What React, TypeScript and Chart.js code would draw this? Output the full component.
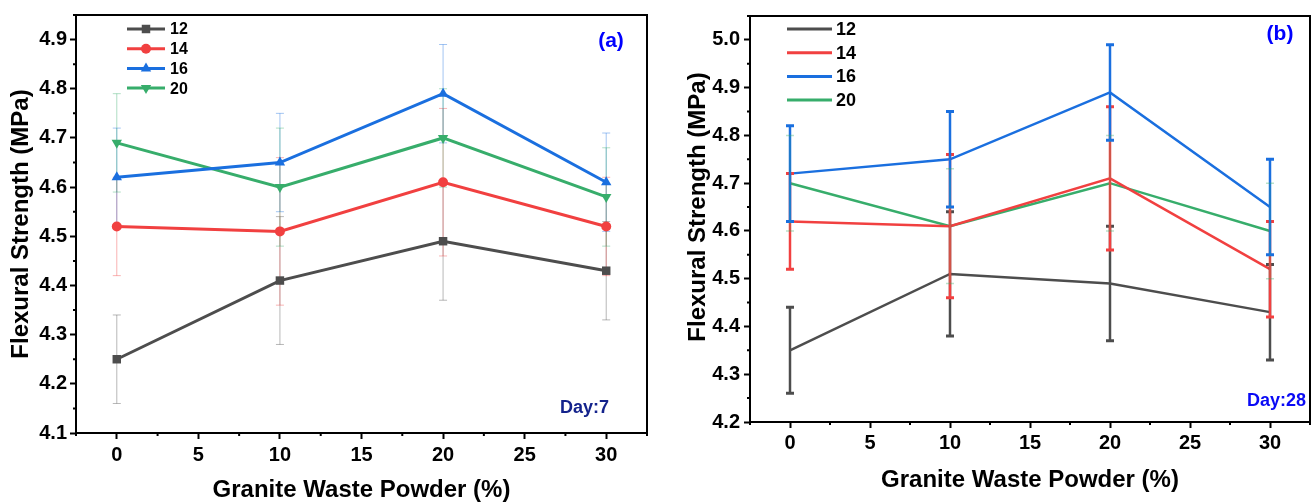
import React, { useEffect, useRef } from 'react';
import { Chart, registerables } from 'chart.js';

Chart.register(...registerables);

const FONT = "'Liberation Sans', Arial, Helvetica, sans-serif";

// ---------- data ----------
const xPositions = [0, 10, 20, 30];
const seriesNames = ['12', '14', '16', '20'];
const seriesColors = ['#4D4D4D', '#F14040', '#1A6FDF', '#37AD6B'];
const xTickValues = [0, 5, 10, 15, 20, 25, 30];
const day7YTicks = [4.1, 4.2, 4.3, 4.4, 4.5, 4.6, 4.7, 4.8, 4.9];
const day28YTicks = [4.2, 4.3, 4.4, 4.5, 4.6, 4.7, 4.8, 4.9, 5.0];

// Day 7
const day7Series12 = [4.25, 4.41, 4.49, 4.43];
const day7Series14 = [4.52, 4.51, 4.61, 4.52];
const day7Series16 = [4.62, 4.65, 4.79, 4.61];
const day7Series20 = [4.69, 4.6, 4.7, 4.58];
const day7Err12 = [0.09, 0.13, 0.12, 0.1];
const day7Err14 = [0.1, 0.15, 0.15, 0.1];
const day7Err16 = [0.1, 0.1, 0.1, 0.1];
const day7Err20 = [0.1, 0.12, 0.1, 0.1];

// Day 28
const day28Series12 = [4.35, 4.51, 4.49, 4.43];
const day28Series14 = [4.62, 4.61, 4.71, 4.52];
const day28Series16 = [4.72, 4.75, 4.89, 4.65];
const day28Series20 = [4.7, 4.61, 4.7, 4.6];
const day28Err12 = [0.09, 0.13, 0.12, 0.1];
const day28Err14 = [0.1, 0.15, 0.15, 0.1];
const day28Err16 = [0.1, 0.1, 0.1, 0.1];
const day28Err20 = [0.1, 0.12, 0.1, 0.1];

const xTitle = 'Granite Waste Powder (%)';
const yTitle = 'Flexural Strength (MPa)';

// ---------- panel specs ----------
type ErrStyle = { alpha: number; width: number; capWidth: number; cap: number };
type Spec = {
  canvasLeft: number;
  canvasWidth: number;
  values: number[][];
  errors: number[][];
  yMin: number;
  yMax: number;
  yTicks: number[];
  markers: boolean;
  lineWidth: number;
  errStyles: ErrStyle[];
  errBehind: boolean;
  pad: { left: number; right: number; top: number; bottom: number };
  yWidth: number;
  xHeight: number;
  xTickPad: number;
  yTickPad: number;
  yTitlePos: [number, number];
  legend: { x0: number; x1: number; tx: number; y0: number; dy: number; size: number; lw: number };
  tag: { text: string; x: number; y: number; color: string; size: number };
  day: { text: string; x: number; y: number; color: string; size: number };
};

const thinErr: ErrStyle = { alpha: 0.4, width: 1, capWidth: 1, cap: 4 };

const specA: Spec = {
  canvasLeft: 0,
  canvasWidth: 660,
  values: [day7Series12, day7Series14, day7Series16, day7Series20],
  errors: [day7Err12, day7Err14, day7Err16, day7Err20],
  yMin: 4.1,
  yMax: 4.95,
  yTicks: day7YTicks,
  markers: true,
  lineWidth: 3,
  errStyles: [thinErr, thinErr, thinErr, thinErr],
  errBehind: true,
  pad: { left: 10, right: 13, top: 15, bottom: 0 },
  yWidth: 66,
  xHeight: 69,
  xTickPad: 4,
  yTickPad: 3,
  yTitlePos: [21, 224],
  legend: { x0: 127, x1: 165, tx: 170, y0: 29, dy: 19.7, size: 16, lw: 3 },
  tag: { text: '(a)', x: 611, y: 41, color: '#0000FF', size: 21 },
  day: { text: 'Day:7', x: 609, y: 408, color: '#14238C', size: 18 },
};

const boldErr: ErrStyle = { alpha: 1, width: 2.5, capWidth: 3, cap: 4 };
const specB: Spec = {
  canvasLeft: 660,
  canvasWidth: 655,
  values: [day28Series12, day28Series14, day28Series16, day28Series20],
  errors: [day28Err12, day28Err14, day28Err16, day28Err20],
  yMin: 4.2,
  yMax: 5.05,
  yTicks: day28YTicks,
  markers: false,
  lineWidth: 2.5,
  errStyles: [boldErr, boldErr, boldErr, { alpha: 0.35, width: 1, capWidth: 1.5, cap: 4 }],
  errBehind: false,
  pad: { left: 27, right: 5, top: 13, bottom: 10 },
  yWidth: 63,
  xHeight: 70,
  xTickPad: 3,
  yTickPad: 4,
  yTitlePos: [38, 207],
  legend: { x0: 127, x1: 172, tx: 176, y0: 29, dy: 23.7, size: 18, lw: 3 },
  tag: { text: '(b)', x: 620, y: 34, color: '#0000FF', size: 21 },
  day: { text: 'Day:28', x: 646, y: 401, color: '#0A0AF5', size: 18 },
};

const pointStyles = ['rect', 'circle', 'triangle', 'triangle'];
const pointRotations = [0, 0, 0, 180];
const pointRadii = [6, 5, 6, 6];

function drawMarker(ctx: CanvasRenderingContext2D, idx: number, x: number, y: number) {
  const r = pointRadii[idx];
  ctx.beginPath();
  if (idx === 0) {
    const s = Math.SQRT1_2 * r;
    ctx.rect(x - s, y - s, 2 * s, 2 * s);
  } else if (idx === 1) {
    ctx.arc(x, y, r, 0, Math.PI * 2);
  } else {
    const dir = idx === 2 ? -1 : 1;
    for (let k = 0; k < 3; k++) {
      const a = (k * 2 * Math.PI) / 3;
      const px = x + Math.sin(a) * r;
      const py = y + dir * Math.cos(a) * r;
      if (k === 0) ctx.moveTo(px, py);
      else ctx.lineTo(px, py);
    }
    ctx.closePath();
  }
  ctx.fill();
}

function drawErrorBars(chart: any, spec: Spec) {
  const ctx: CanvasRenderingContext2D = chart.ctx;
  const xs = chart.scales.x;
  const ys = chart.scales.y;
  chart.data.datasets.forEach((ds: any, si: number) => {
    const st = spec.errStyles[si];
    const errs = spec.errors[si];
    ctx.save();
    ctx.strokeStyle = seriesColors[si];
    ctx.globalAlpha = st.alpha;
    ds.data.forEach((pt: any, i: number) => {
      const px = xs.getPixelForValue(pt.x);
      const top = ys.getPixelForValue(pt.y + errs[i]);
      const bot = ys.getPixelForValue(pt.y - errs[i]);
      ctx.lineWidth = st.width;
      ctx.beginPath();
      ctx.moveTo(px, top);
      ctx.lineTo(px, bot);
      ctx.stroke();
      ctx.lineWidth = st.capWidth;
      ctx.beginPath();
      ctx.moveTo(px - st.cap, top);
      ctx.lineTo(px + st.cap, top);
      ctx.moveTo(px - st.cap, bot);
      ctx.lineTo(px + st.cap, bot);
      ctx.stroke();
    });
    ctx.restore();
  });
}

function makeDecor(spec: Spec) {
  return {
    id: 'panelDecor',
    beforeDatasetsDraw(chart: any) {
      if (spec.errBehind) drawErrorBars(chart, spec);
    },
    afterDatasetsDraw(chart: any) {
      if (!spec.errBehind) drawErrorBars(chart, spec);
    },
    afterDraw(chart: any) {
      const ctx: CanvasRenderingContext2D = chart.ctx;
      const area = chart.chartArea;
      const xs = chart.scales.x;
      const ys = chart.scales.y;
      ctx.save();
      // frame
      ctx.strokeStyle = '#000';
      ctx.lineWidth = 2;
      ctx.strokeRect(area.left, area.top, area.right - area.left, area.bottom - area.top);
      // minor ticks
      ctx.beginPath();
      for (let v = -2.5; v <= 32.5 + 1e-6; v += 5) {
        if (v < xs.min - 1e-6 || v > xs.max + 1e-6) continue;
        const px = xs.getPixelForValue(v);
        ctx.moveTo(px, area.bottom);
        ctx.lineTo(px, area.bottom + 3);
      }
      for (let k = 0; k < spec.yTicks.length; k++) {
        const v = spec.yTicks[k] + 0.05;
        if (v > ys.max + 1e-6) continue;
        const py = ys.getPixelForValue(v);
        ctx.moveTo(area.left, py);
        ctx.lineTo(area.left - 3, py);
      }
      ctx.stroke();

      // legend
      const L = spec.legend;
      chart.data.datasets.forEach((ds: any, i: number) => {
        const y = L.y0 + i * L.dy;
        ctx.strokeStyle = ds.borderColor;
        ctx.fillStyle = ds.borderColor;
        ctx.lineWidth = L.lw;
        ctx.beginPath();
        ctx.moveTo(L.x0, y);
        ctx.lineTo(L.x1, y);
        ctx.stroke();
        if (spec.markers) drawMarker(ctx, i, (L.x0 + L.x1) / 2, y);
        ctx.fillStyle = '#000';
        ctx.font = `bold ${L.size}px ${FONT}`;
        ctx.textAlign = 'left';
        ctx.textBaseline = 'middle';
        ctx.fillText(ds.label, L.tx, y + 1);
      });

      // tag and day label
      ctx.textBaseline = 'middle';
      ctx.textAlign = 'center';
      ctx.fillStyle = spec.tag.color;
      ctx.font = `bold ${spec.tag.size}px ${FONT}`;
      ctx.fillText(spec.tag.text, spec.tag.x, spec.tag.y);
      ctx.textAlign = 'right';
      ctx.fillStyle = spec.day.color;
      ctx.font = `bold ${spec.day.size}px ${FONT}`;
      ctx.fillText(spec.day.text, spec.day.x, spec.day.y);

      // y title
      ctx.translate(spec.yTitlePos[0], spec.yTitlePos[1]);
      ctx.rotate(-Math.PI / 2);
      ctx.textAlign = 'center';
      ctx.fillStyle = '#000';
      ctx.font = `bold 24px ${FONT}`;
      ctx.fillText(yTitle, 0, 0);
      ctx.restore();
    },
  };
}

function buildChart(canvas: HTMLCanvasElement, spec: Spec) {
  const datasets = spec.values.map((vals, i) => ({
    label: seriesNames[i],
    data: xPositions.map((x, j) => ({ x, y: vals[j] })),
    borderColor: seriesColors[i],
    backgroundColor: seriesColors[i],
    borderWidth: spec.lineWidth,
    pointRadius: spec.markers ? pointRadii[i] : 0,
    pointHoverRadius: spec.markers ? pointRadii[i] : 0,
    pointStyle: pointStyles[i] as any,
    pointRotation: pointRotations[i],
    pointBorderWidth: 0,
    tension: 0,
    fill: false,
  }));
  const tickFont = { family: FONT, size: 20, weight: 'bold' as const };
  return new Chart(canvas, {
    type: 'line',
    data: { datasets },
    plugins: [makeDecor(spec)],
    options: {
      animation: false,
      responsive: false,
      maintainAspectRatio: false,
      devicePixelRatio: 1,
      layout: { padding: spec.pad },
      plugins: { legend: { display: false }, tooltip: { enabled: false } },
      scales: {
        x: {
          type: 'linear',
          min: -2.5,
          max: 32.5,
          afterBuildTicks: (s: any) => {
            s.ticks = xTickValues.map((v) => ({ value: v }));
          },
          afterFit: (s: any) => {
            s.height = spec.xHeight;
          },
          grid: { drawOnChartArea: false, drawTicks: true, tickLength: 6, tickWidth: 2, tickColor: '#000' },
          border: { display: true, color: '#000', width: 2 },
          ticks: { font: tickFont, color: '#000', padding: spec.xTickPad, maxRotation: 0, autoSkip: false },
          title: {
            display: true,
            text: xTitle,
            color: '#000',
            font: { family: FONT, size: 24, weight: 'bold', lineHeight: 1 },
            padding: { top: 0, bottom: 0 },
          },
        },
        y: {
          type: 'linear',
          min: spec.yMin,
          max: spec.yMax,
          afterBuildTicks: (s: any) => {
            s.ticks = spec.yTicks.map((v) => ({ value: v }));
          },
          afterFit: (s: any) => {
            s.width = spec.yWidth;
          },
          grid: { drawOnChartArea: false, drawTicks: true, tickLength: 6, tickWidth: 2, tickColor: '#000' },
          border: { display: true, color: '#000', width: 2 },
          ticks: {
            font: tickFont,
            color: '#000',
            padding: spec.yTickPad,
            autoSkip: false,
            callback: (v: any) => Number(v).toFixed(1),
          },
          title: { display: false },
        },
      },
    },
  });
}

function Panel({ spec }: { spec: Spec }) {
  const ref = useRef<HTMLCanvasElement | null>(null);
  useEffect(() => {
    if (!ref.current) return;
    const chart = buildChart(ref.current, spec);
    return () => chart.destroy();
  }, [spec]);
  return (
    <canvas
      ref={ref}
      width={spec.canvasWidth}
      height={502}
      style={{ position: 'absolute', left: spec.canvasLeft, top: 0, width: spec.canvasWidth, height: 502 }}
    />
  );
}

export default function App() {
  return (
    <div style={{ position: 'absolute', left: 0, top: 0, width: 1315, height: 502, background: '#fff', overflow: 'hidden' }}>
      <Panel spec={specA} />
      <Panel spec={specB} />
    </div>
  );
}
